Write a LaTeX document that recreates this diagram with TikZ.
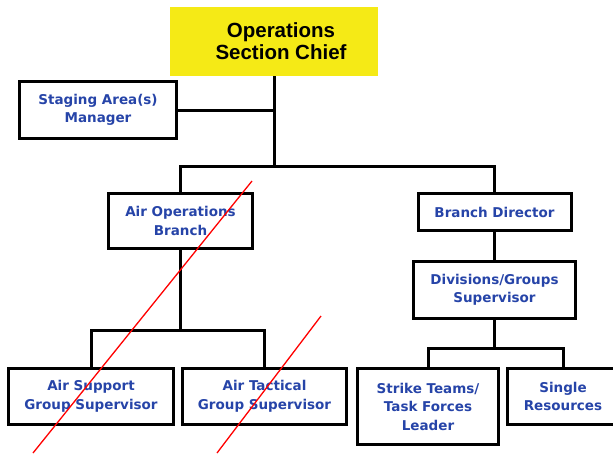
\documentclass[tikz,border=0pt]{standalone}
\usepackage{fontspec}
\setmainfont{DejaVu Sans}
\newfontfamily\chieffont{Liberation Sans}
\usepackage{xcolor}
\usepackage{tikz}
\definecolor{chiefyellow}{RGB}{245,234,22}
\definecolor{boxblue}{RGB}{38,68,168}

\begin{document}
\begin{tikzpicture}[
  x=1pt,y=-1pt,
  unit/.style={draw, line width=3pt, align=center, text=boxblue,
    inner sep=0pt, font=\fontsize{13.5}{18.5}\selectfont\bfseries},
  link/.style={line width=3pt},
  cross/.style={red, line width=1.3pt}
]
\useasboundingbox (0,0) rectangle (613,453);
\node[fill=chiefyellow, minimum width=208, minimum height=69, align=center,
  font=\fontsize{20.5}{22}\selectfont\chieffont\bfseries]
  (chief) at (274,41.5) {\hspace*{14pt}Operations\\\hspace*{14pt}Section Chief};
\node[unit, minimum width=157, minimum height=57] (staging) at (98,110) {Staging Area(s)\\Manager};
\node[unit, minimum width=144, minimum height=55] (airops) at (180.5,221) {Air Operations\\Branch};
\node[unit, minimum width=153, minimum height=37] (branch) at (494.5,212) {Branch Director};
\node[unit, minimum width=162, minimum height=57] (divs) at (494.5,290) {Divisions/Groups\\Supervisor};
\node[unit, minimum width=165, minimum height=56] (airsup) at (91,396.5) {Air Support\\Group Supervisor};
\node[unit, minimum width=164, minimum height=56] (airtac) at (264.5,396.5) {Air Tactical\\Group Supervisor};
\node[unit, minimum width=141, minimum height=76] (strike) at (428,406.5) {Strike Teams/\\Task Forces\\Leader};
\node[unit, minimum width=111, minimum height=56] (single) at (563,396.5) {Single\\Resources};

\coordinate (bus) at (274,166);
\coordinate (airbus) at (180.5,330);
\coordinate (divbus) at (494.5,348);

\draw[link] (chief.south) -- (bus);
\draw[link] (staging.east) -- (staging.east -| bus);
\draw[link] (airops.north) |- (bus) -| (branch.north);
\draw[link] (branch.south) -- (divs.north);
\draw[link] (airops.south) -- (airbus);
\draw[link] (airsup.north) |- (airbus) -| (airtac.north);
\draw[link] (divs.south) -- (divbus);
\draw[link] (strike.north) |- (divbus) -| (single.north);

\draw[cross] (252,181) -- (33,453);
\draw[cross] (321,316) -- (217,453);
\end{tikzpicture}
\end{document}
